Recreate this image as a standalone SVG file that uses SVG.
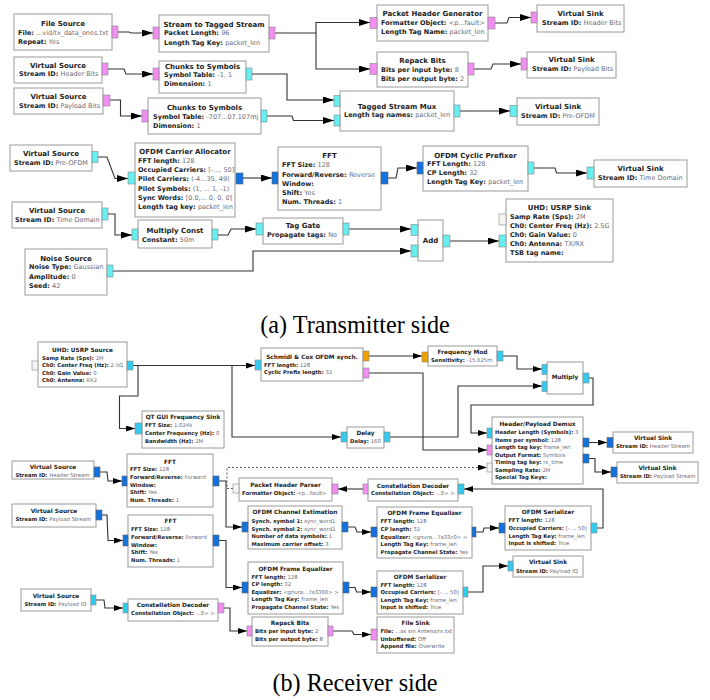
<svg xmlns="http://www.w3.org/2000/svg" width="710" height="700" viewBox="0 0 710 700">
<style>
.n{fill:#fff;stroke:#9a9a9a;stroke-width:1}
.pk{fill:#f28ef2;stroke:#888;stroke-width:.6}
.cy{fill:#66eef0;stroke:#888;stroke-width:.6}
.cb{fill:#33ccf0;stroke:#888;stroke-width:.6}
.bl{fill:#1272e0;stroke:#666;stroke-width:.6}
.or{fill:#f0a000;stroke:#888;stroke-width:.6}
.wh{fill:#f4f4f4;stroke:#888;stroke-width:.6}
text{font-family:"DejaVu Sans",sans-serif;fill:#222;font-weight:bold}
.t{text-anchor:middle}
.v{font-weight:normal;fill:#6b6b78}
.top .t{font-size:7px}
.top .p{font-size:6.5px}
.bot .t{font-size:5.8px}
.bot .p{font-size:5.3px}
.c{fill:none;stroke:#333;stroke-width:1.1}
.top .c{marker-end:url(#ah)}
.bot .c{marker-end:url(#as)}
.d{fill:none;stroke:#555;stroke-width:1;stroke-dasharray:2,2;marker-end:url(#as)}
.cap{font-family:"Liberation Serif",serif;font-weight:normal;font-size:24.2px;text-anchor:middle;fill:#000}
</style>
<defs>
<marker id="ah" markerUnits="userSpaceOnUse" markerWidth="11" markerHeight="7" refX="11" refY="3.5" orient="auto"><path d="M0,0 L11,3.5 L0,7 z" fill="#000"/></marker>
<marker id="as" markerUnits="userSpaceOnUse" markerWidth="9" markerHeight="6" refX="9" refY="3" orient="auto"><path d="M0,0 L9,3 L0,6 z" fill="#000"/></marker>
</defs>
<rect width="710" height="700" fill="#fff"/>

<g class="top">
<g id="connectors_tx">
<path class="c" d="M118,32 H129 L131,33 H153"/>
<path class="c" d="M275,33 H316 V22.5 H370"/>
<path class="c" d="M316,33 V69 H370"/>
<path class="c" d="M495,23 H507 L509,17.5 H531"/>
<path class="c" d="M474,69 H491 L493,64 H521"/>
<path class="c" d="M108,69 H124 L126,74 H153"/>
<path class="c" d="M252,74 H287 V100 H334"/>
<path class="c" d="M110,100 H120.5 V116 H142"/>
<path class="c" d="M267,116 H292 L293.5,120.5 H334"/>
<path class="c" d="M460,111 H510"/>
<path class="c" d="M98,157 H107 L115,178.5 H128"/>
<path class="c" d="M243,178 H272"/>
<path class="c" d="M388,178 H396 L398,168 H417"/>
<path class="c" d="M534,168 H555 L556.5,173 H587"/>
<path class="c" d="M108,214 H115 V235 H132"/>
<path class="c" d="M218,235 H228 L231,229 H256"/>
<path class="c" d="M349,229 H411"/>
<path class="c" d="M113,271 H253 V251 H411"/>
<path class="c" d="M450,241 H499"/>
</g>

<g id="file_source">
<rect class="n" x="14" y="14" width="98" height="36"/>
<text class="t" x="63" y="25.5">File Source</text>
<text class="p" x="18" y="35.3">File: <tspan class="v">...vid/tx_data_ones.txt</tspan></text>
<text class="p" x="18" y="44.3">Repeat: <tspan class="v">Yes</tspan></text>
<rect class="pk" x="112" y="26" width="6" height="12"/>
</g>
<g id="stream_to_tagged_stream">
<rect class="n" x="159" y="15" width="110" height="37"/>
<text class="t" x="214" y="26.5">Stream to Tagged Stream</text>
<text class="p" x="164" y="35.3">Packet Length: <tspan class="v">96</tspan></text>
<text class="p" x="164" y="45.3">Length Tag Key: <tspan class="v">packet_len</tspan></text>
<rect class="pk" x="153" y="27" width="6" height="12"/>
<rect class="pk" x="269" y="27" width="6" height="12"/>
</g>
<g id="packet_header_generator">
<rect class="n" x="377" y="5" width="111" height="36"/>
<text class="t" x="432.5" y="15.5">Packet Header Generator</text>
<text class="p" x="381" y="25.3">Formatter Object: <tspan class="v">&lt;p...fault&gt;</tspan></text>
<text class="p" x="381" y="34.3">Length Tag Name: <tspan class="v">packet_len</tspan></text>
<rect class="pk" x="370" y="17.5" width="7" height="11"/>
<rect class="pk" x="488" y="17" width="7" height="12"/>
</g>
<g id="virtual_sink_header_bits">
<rect class="n" x="537" y="5" width="87" height="27"/>
<text class="t" x="580.5" y="15.5">Virtual Sink</text>
<text class="p" x="542" y="25.3">Stream ID: <tspan class="v">Header Bits</tspan></text>
<rect class="pk" x="531" y="12" width="6" height="11"/>
</g>
<g id="repack_bits_tx">
<rect class="n" x="377" y="52" width="91" height="35"/>
<text class="t" x="422.5" y="62.5">Repack Bits</text>
<text class="p" x="381" y="72.3">Bits per input byte: <tspan class="v">8</tspan></text>
<text class="p" x="381" y="81.3">Bits per output byte: <tspan class="v">2</tspan></text>
<rect class="pk" x="370" y="63.5" width="7" height="11"/>
<rect class="pk" x="468" y="63" width="6" height="12"/>
</g>
<g id="virtual_sink_payload_bits">
<rect class="n" x="527" y="52" width="89" height="26"/>
<text class="t" x="571.5" y="62">Virtual Sink</text>
<text class="p" x="532" y="71.3">Stream ID: <tspan class="v">Payload Bits</tspan></text>
<rect class="pk" x="521" y="58" width="6" height="12"/>
</g>
<g id="virtual_source_header_bits">
<rect class="n" x="14" y="57" width="88" height="26"/>
<text class="t" x="58" y="67.5">Virtual Source</text>
<text class="p" x="19" y="76.3">Stream ID: <tspan class="v">Header Bits</tspan></text>
<rect class="pk" x="102" y="63" width="6" height="12"/>
</g>
<g id="chunks_to_symbols_1">
<rect class="n" x="159" y="61" width="87" height="32"/>
<text class="t" x="202.5" y="68.5">Chunks to Symbols</text>
<text class="p" x="164" y="77.3">Symbol Table: <tspan class="v">-1, 1</tspan></text>
<text class="p" x="164" y="86.3">Dimension: <tspan class="v">1</tspan></text>
<rect class="pk" x="153" y="68" width="6" height="12"/>
<rect class="cy" x="246" y="68" width="6" height="12"/>
</g>
<g id="virtual_source_payload_bits">
<rect class="n" x="14" y="88" width="89" height="26"/>
<text class="t" x="58.5" y="98.5">Virtual Source</text>
<text class="p" x="19" y="108.3">Stream ID: <tspan class="v">Payload Bits</tspan></text>
<rect class="pk" x="103" y="95" width="7" height="11"/>
</g>
<g id="chunks_to_symbols_2">
<rect class="n" x="148" y="98" width="113" height="36"/>
<text class="t" x="204.5" y="109.5">Chunks to Symbols</text>
<text class="p" x="153" y="119.3">Symbol Table: <tspan class="v">-707...07.107mj</tspan></text>
<text class="p" x="153" y="128.3">Dimension: <tspan class="v">1</tspan></text>
<rect class="pk" x="142" y="110" width="6" height="12"/>
<rect class="cy" x="261" y="110" width="6" height="12"/>
</g>
<g id="tagged_stream_mux">
<rect class="n" x="340" y="91" width="114" height="40"/>
<text class="t" x="397" y="108.5">Tagged Stream Mux</text>
<text class="p" x="344" y="117.3">Length tag names: <tspan class="v">packet_len</tspan></text>
<rect class="cy" x="334" y="95.5" width="6" height="11"/>
<rect class="cy" x="334" y="115" width="6" height="11"/>
<rect class="cy" x="454" y="105" width="6" height="12"/>
</g>
<g id="virtual_sink_pre_ofdm">
<rect class="n" x="517" y="98" width="82" height="27"/>
<text class="t" x="558" y="108.5">Virtual Sink</text>
<text class="p" x="521" y="118.3">Stream ID: <tspan class="v">Pre-OFDM</tspan></text>
<rect class="cy" x="510" y="105.5" width="7" height="11"/>
</g>
<g id="virtual_source_pre_ofdm">
<rect class="n" x="10" y="145" width="82" height="26"/>
<text class="t" x="51" y="155.8">Virtual Source</text>
<text class="p" x="14" y="165">Stream ID: <tspan class="v">Pre-OFDM</tspan></text>
<rect class="cy" x="92" y="151.5" width="6" height="11"/>
</g>
<g id="ofdm_carrier_allocator">
<rect class="n" x="135" y="143" width="100" height="74"/>
<text class="t" x="185" y="153.5">OFDM Carrier Allocator</text>
<text class="p" x="138" y="163">FFT length: <tspan class="v">128</tspan></text>
<text class="p" x="138" y="172.3">Occupied Carriers: <tspan class="v">[-..., 50]</tspan></text>
<text class="p" x="138" y="181.3">Pilot Carriers: <tspan class="v">(-4...35, 49)</tspan></text>
<text class="p" x="138" y="190.8">Pilot Symbols: <tspan class="v">(1, ... 1, -1)</tspan></text>
<text class="p" x="138" y="200">Sync Words: <tspan class="v">[0.0,... 0, 0, 0]</tspan></text>
<text class="p" x="138" y="209">Length tag key: <tspan class="v">packet_len</tspan></text>
<rect class="cy" x="128" y="172" width="7" height="12"/>
<rect class="bl" x="236" y="173" width="7" height="11"/>
</g>
<g id="fft_tx">
<rect class="n" x="278" y="147" width="103" height="63"/>
<text class="t" x="329.5" y="158.2">FFT</text>
<text class="p" x="282" y="167.3">FFT Size: <tspan class="v">128</tspan></text>
<text class="p" x="282" y="176.6">Forward/Reverse: <tspan class="v">Reverse</tspan></text>
<text class="p" x="282" y="185.6">Window:</text>
<text class="p" x="282" y="194.6">Shift: <tspan class="v">Yes</tspan></text>
<text class="p" x="282" y="204">Num. Threads: <tspan class="v">1</tspan></text>
<rect class="bl" x="272" y="172" width="6" height="12"/>
<rect class="bl" x="381" y="172" width="7" height="12"/>
</g>
<g id="ofdm_cyclic_prefixer">
<rect class="n" x="423" y="146" width="105" height="45"/>
<text class="t" x="475.5" y="158.2">OFDM Cyclic Prefixer</text>
<text class="p" x="427" y="166.3">FFT Length: <tspan class="v">128</tspan></text>
<text class="p" x="427" y="175.3">CP Length: <tspan class="v">32</tspan></text>
<text class="p" x="427" y="184.3">Length Tag Key: <tspan class="v">packet_len</tspan></text>
<rect class="bl" x="417" y="162" width="6" height="12"/>
<rect class="cy" x="528" y="162" width="6" height="12"/>
</g>
<g id="virtual_sink_time_domain">
<rect class="n" x="594" y="160" width="93" height="27"/>
<text class="t" x="640.5" y="170.5">Virtual Sink</text>
<text class="p" x="598" y="180.3">Stream ID: <tspan class="v">Time Domain</tspan></text>
<rect class="cy" x="587" y="167" width="7" height="12"/>
</g>
<g id="virtual_source_time_domain">
<rect class="n" x="12" y="202" width="90" height="26"/>
<text class="t" x="57" y="212.5">Virtual Source</text>
<text class="p" x="15" y="222.3">Stream ID: <tspan class="v">Time Domain</tspan></text>
<rect class="cy" x="102" y="208" width="6" height="12"/>
</g>
<g id="multiply_const">
<rect class="n" x="138" y="220" width="74" height="28"/>
<text class="t" x="175" y="233.2">Multiply Const</text>
<text class="p" x="142" y="242.3">Constant: <tspan class="v">50m</tspan></text>
<rect class="cy" x="132" y="229" width="6" height="11"/>
<rect class="cy" x="212" y="229" width="6" height="11"/>
</g>
<g id="tag_gate">
<rect class="n" x="263" y="218" width="80" height="26"/>
<text class="t" x="303" y="227.5">Tag Gate</text>
<text class="p" x="267" y="237.3">Propagate tags: <tspan class="v">No</tspan></text>
<rect class="cy" x="256" y="223" width="7" height="12"/>
<rect class="cy" x="343" y="223" width="6" height="12"/>
</g>
<g id="add">
<rect class="n" x="418" y="220" width="25" height="41"/>
<text class="t" x="430.5" y="242.5">Add</text>
<rect class="cy" x="411" y="224.5" width="7" height="11"/>
<rect class="cy" x="411" y="245" width="7" height="12"/>
<rect class="cy" x="443" y="235" width="7" height="12"/>
</g>
<g id="noise_source">
<rect class="n" x="25" y="249" width="82" height="46"/>
<text class="t" x="66" y="260.5">Noise Source</text>
<text class="p" x="29" y="269.3">Noise Type: <tspan class="v">Gaussian</tspan></text>
<text class="p" x="29" y="279">Amplitude: <tspan class="v">0</tspan></text>
<text class="p" x="29" y="288">Seed: <tspan class="v">42</tspan></text>
<rect class="cy" x="107" y="265" width="6" height="12"/>
</g>
<g id="uhd_usrp_sink">
<rect class="n" x="506" y="199" width="107" height="63"/>
<text class="t" x="559.5" y="209.5">UHD: USRP Sink</text>
<text class="p" x="510" y="219.3">Samp Rate (Sps): <tspan class="v">2M</tspan></text>
<text class="p" x="510" y="228.3">Ch0: Center Freq (Hz): <tspan class="v">2.5G</tspan></text>
<text class="p" x="510" y="237.3">Ch0: Gain Value: <tspan class="v">0</tspan></text>
<text class="p" x="510" y="246.3">Ch0: Antenna: <tspan class="v">TX/RX</tspan></text>
<text class="p" x="510" y="255.3">TSB tag name:</text>
<rect class="wh" x="499" y="214" width="7" height="11"/>
<rect class="cy" x="499" y="235" width="7" height="12"/>
</g>
</g>

<text class="cap" x="355" y="333">(a) Transmitter side</text>

<g class="bot">
<g id="connectors_rx">
<path class="c" d="M133,365.5 H255"/>
<path class="c" d="M138,365.5 V396 H119.5 V428.5 H135"/>
<path class="c" d="M232,365.5 V437 H341"/>
<path class="c" d="M369,356 H422"/>
<path class="c" d="M503,356 H517 V369 H542"/>
<path class="c" d="M390,437 H458 V386 H542"/>
<path class="c" d="M369,373 H423 V450 H487"/>
<path class="c" d="M589,378 H593 V405 H471 V433 H487"/>
<path class="c" d="M589,442.5 H607"/>
<path class="c" d="M589,458.5 H595 V472 H611"/>
<path class="d" d="M233,488.5 H227 V467.5 H487"/>
<path class="c" d="M363,489 H338"/>
<path class="c" d="M597,528 H603 V489 H464"/>
<path class="c" d="M100,472 H107 L108,481 H122"/>
<path class="c" d="M219,481 H226 V527 H242"/>
<path class="c" d="M102,515 H107 L108,540.5 H123"/>
<path class="c" d="M219,540.5 H226 V587.5 H242"/>
<path class="c" d="M348,527 H355 L357,532 H371"/>
<path class="c" d="M476,532 H483 L484,528 H499"/>
<path class="c" d="M349,587.5 H355 L356.5,592 H371"/>
<path class="c" d="M468,592 H483 V566 H508"/>
<path class="c" d="M96,600 H104 L105,608 H123"/>
<path class="c" d="M224,608 H230 V631 H247"/>
<path class="c" d="M333,631 H352 L354,634.5 H371"/>
</g>

<g id="uhd_usrp_source">
<rect class="n" x="38" y="342" width="89" height="45"/>
<text class="t" x="82.5" y="351.7">UHD: USRP Source</text>
<text class="p" x="42" y="359.6">Samp Rate (Sps): <tspan class="v">2M</tspan></text>
<text class="p" x="42" y="366.9">Ch0: Center Freq (Hz): <tspan class="v">2.5G</tspan></text>
<text class="p" x="42" y="374.6">Ch0: Gain Value: <tspan class="v">0</tspan></text>
<text class="p" x="42" y="381.9">Ch0: Antenna: <tspan class="v">RX2</tspan></text>
<rect class="wh" x="32" y="361" width="6" height="9"/>
<rect class="cb" x="127" y="361" width="6" height="9"/>
</g>
<g id="qt_gui_frequency_sink">
<rect class="n" x="142" y="411" width="82" height="37"/>
<text class="t" x="183" y="419.3">QT GUI Frequency Sink</text>
<text class="p" x="145" y="427">FFT Size: <tspan class="v">1.024k</tspan></text>
<text class="p" x="145" y="435">Center Frequency (Hz): <tspan class="v">0</tspan></text>
<text class="p" x="145" y="443">Bandwidth (Hz): <tspan class="v">2M</tspan></text>
<rect class="cb" x="135" y="423" width="7" height="11"/>
</g>
<g id="schmidl_cox">
<rect class="n" x="261" y="348" width="102" height="33"/>
<text class="t" x="312" y="358.7">Schmidl &amp; Cox OFDM synch.</text>
<text class="p" x="264" y="366.6">FFT length: <tspan class="v">128</tspan></text>
<text class="p" x="264" y="374.2">Cyclic Prefix length: <tspan class="v">32</tspan></text>
<rect class="cb" x="255" y="360" width="6" height="10"/>
<rect class="or" x="363" y="351" width="6" height="10"/>
<rect class="pk" x="363" y="368" width="6" height="10"/>
</g>
<g id="frequency_mod">
<rect class="n" x="428" y="346" width="69" height="20"/>
<text class="t" x="462.5" y="354.3">Frequency Mod</text>
<text class="p" x="431" y="362">Sensitivity: <tspan class="v">-15.625m</tspan></text>
<rect class="or" x="422" y="352" width="6" height="10"/>
<rect class="cb" x="497" y="351" width="6" height="10"/>
</g>
<g id="multiply">
<rect class="n" x="547" y="362" width="36" height="32"/>
<text class="t" x="565" y="379">Multiply</text>
<rect class="cb" x="542" y="364.5" width="5" height="10"/>
<rect class="cb" x="542" y="381.5" width="5" height="10"/>
<rect class="cb" x="583" y="373" width="6" height="10"/>
</g>
<g id="delay">
<rect class="n" x="347" y="427" width="37" height="21"/>
<text class="t" x="365.5" y="435">Delay</text>
<text class="p" x="350" y="443">Delay: <tspan class="v">160</tspan></text>
<rect class="cb" x="341" y="432" width="6" height="10"/>
<rect class="cb" x="384" y="432" width="6" height="10"/>
</g>
<g id="header_payload_demux">
<rect class="n" x="492" y="417" width="91" height="67"/>
<text class="t" x="537.5" y="426">Header/Payload Demux</text>
<text class="p" x="495" y="434">Header Length (Symbols): <tspan class="v">3</tspan></text>
<text class="p" x="495" y="441.5">Items per symbol: <tspan class="v">128</tspan></text>
<text class="p" x="495" y="449">Length tag key: <tspan class="v">frame_len</tspan></text>
<text class="p" x="495" y="456.6">Output Format: <tspan class="v">Symbols</tspan></text>
<text class="p" x="495" y="464.2">Timing tag key: <tspan class="v">rx_time</tspan></text>
<text class="p" x="495" y="471.8">Sampling Rate: <tspan class="v">2M</tspan></text>
<text class="p" x="495" y="479.4">Special Tag Keys:</text>
<rect class="cb" x="487" y="428" width="5" height="10"/>
<rect class="pk" x="487" y="445" width="5" height="10"/>
<rect class="wh" x="487" y="463" width="5" height="9"/>
<rect class="bl" x="583" y="438" width="6" height="9"/>
<rect class="bl" x="583" y="454" width="6" height="9"/>
</g>
<g id="virtual_sink_header_stream">
<rect class="n" x="613" y="432" width="80" height="21"/>
<text class="t" x="653" y="440.3">Virtual Sink</text>
<text class="p" x="616" y="448">Stream ID: <tspan class="v">Header Stream</tspan></text>
<rect class="bl" x="607" y="437.5" width="6" height="10"/>
</g>
<g id="virtual_sink_payload_stream">
<rect class="n" x="617" y="462" width="81" height="21"/>
<text class="t" x="657.5" y="470.3">Virtual Sink</text>
<text class="p" x="620" y="478">Stream ID: <tspan class="v">Payload Stream</tspan></text>
<rect class="bl" x="611" y="467" width="6" height="10"/>
</g>
<g id="virtual_source_header_stream">
<rect class="n" x="12" y="461" width="82" height="18"/>
<text class="t" x="53" y="469.2">Virtual Source</text>
<text class="p" x="15.5" y="476.8">Stream ID: <tspan class="v">Header Stream</tspan></text>
<rect class="bl" x="94" y="467" width="6" height="10"/>
</g>
<g id="fft_header">
<rect class="n" x="127" y="454" width="86" height="53"/>
<text class="t" x="170" y="463.7">FFT</text>
<text class="p" x="130" y="471.2">FFT Size: <tspan class="v">128</tspan></text>
<text class="p" x="130" y="479.2">Forward/Reverse: <tspan class="v">Forward</tspan></text>
<text class="p" x="130" y="486.6">Window:</text>
<text class="p" x="130" y="494.2">Shift: <tspan class="v">Yes</tspan></text>
<text class="p" x="130" y="501.9">Num. Threads: <tspan class="v">1</tspan></text>
<rect class="bl" x="122" y="476" width="5" height="10"/>
<rect class="bl" x="213" y="476" width="6" height="10"/>
</g>
<g id="packet_header_parser">
<rect class="n" x="239" y="478" width="93" height="23"/>
<text class="t" x="285.5" y="487">Packet Header Parser</text>
<text class="p" x="242" y="494.6">Formatter Object: <tspan class="v">&lt;p...fault&gt;</tspan></text>
<rect class="wh" x="233" y="484" width="6" height="9"/>
<rect class="pk" x="332" y="484" width="6" height="10"/>
</g>
<g id="constellation_decoder_header">
<rect class="n" x="368" y="479" width="90" height="22"/>
<text class="t" x="413" y="487.7">Constellation Decoder</text>
<text class="p" x="371" y="495.2">Constellation Object: <tspan class="v">...0&gt; &gt;</tspan></text>
<rect class="pk" x="363" y="484" width="5" height="10"/>
<rect class="cb" x="458" y="484" width="6" height="10"/>
</g>
<g id="virtual_source_payload_stream">
<rect class="n" x="12" y="504" width="84" height="23"/>
<text class="t" x="54" y="512.7">Virtual Source</text>
<text class="p" x="15.5" y="520.9">Stream ID: <tspan class="v">Payload Stream</tspan></text>
<rect class="bl" x="96" y="510" width="6" height="10"/>
</g>
<g id="fft_payload">
<rect class="n" x="128" y="515" width="85" height="52"/>
<text class="t" x="170.5" y="523">FFT</text>
<text class="p" x="131" y="531">FFT Size: <tspan class="v">128</tspan></text>
<text class="p" x="131" y="539.2">Forward/Reverse: <tspan class="v">Forward</tspan></text>
<text class="p" x="131" y="546.6">Window:</text>
<text class="p" x="131" y="554">Shift: <tspan class="v">Yes</tspan></text>
<text class="p" x="131" y="561.6">Num. Threads: <tspan class="v">1</tspan></text>
<rect class="bl" x="123" y="535" width="5" height="11"/>
<rect class="bl" x="213" y="535" width="6" height="11"/>
</g>
<g id="ofdm_channel_estimation">
<rect class="n" x="248" y="506" width="94" height="43"/>
<text class="t" x="295" y="514.3">OFDM Channel Estimation</text>
<text class="p" x="251.5" y="522.9">Synch. symbol 1: <tspan class="v">sync_word1</tspan></text>
<text class="p" x="251.5" y="530.6">Synch. symbol 2: <tspan class="v">sync_word2</tspan></text>
<text class="p" x="251.5" y="537.9">Number of data symbols: <tspan class="v">1</tspan></text>
<text class="p" x="251.5" y="545.6">Maximum carrier offset: <tspan class="v">3</tspan></text>
<rect class="bl" x="242" y="522" width="6" height="10"/>
<rect class="bl" x="342" y="522" width="6" height="10"/>
</g>
<g id="ofdm_frame_equalizer_1">
<rect class="n" x="377" y="507" width="95" height="51"/>
<text class="t" x="424.5" y="515">OFDM Frame Equalizer</text>
<text class="p" x="380.5" y="522.9">FFT length: <tspan class="v">128</tspan></text>
<text class="p" x="380.5" y="530.9">CP length: <tspan class="v">32</tspan></text>
<text class="p" x="380.5" y="538.6">Equalizer: <tspan class="v">&lt;gnura...7a33c0&gt; &gt;</tspan></text>
<text class="p" x="380.5" y="545.6">Length Tag Key: <tspan class="v">frame_len</tspan></text>
<text class="p" x="380.5" y="553.6">Propagate Channel State: <tspan class="v">Yes</tspan></text>
<rect class="bl" x="371" y="527" width="6" height="10"/>
<rect class="bl" x="472" y="527" width="4" height="10"/>
</g>
<g id="ofdm_serializer_1">
<rect class="n" x="505" y="506" width="86" height="44"/>
<text class="t" x="548" y="514.3">OFDM Serializer</text>
<text class="p" x="508.5" y="522.2">FFT length: <tspan class="v">128</tspan></text>
<text class="p" x="508.5" y="529.9">Occupied Carriers: <tspan class="v">[-..., 50]</tspan></text>
<text class="p" x="508.5" y="537.6">Length Tag Key: <tspan class="v">frame_len</tspan></text>
<text class="p" x="508.5" y="544.9">Input is shifted: <tspan class="v">True</tspan></text>
<rect class="bl" x="499" y="523" width="6" height="10"/>
<rect class="cb" x="591" y="523" width="6" height="10"/>
</g>
<g id="ofdm_frame_equalizer_2">
<rect class="n" x="248" y="562" width="95" height="52"/>
<text class="t" x="295.5" y="571">OFDM Frame Equalizer</text>
<text class="p" x="251.5" y="578.6">FFT length: <tspan class="v">128</tspan></text>
<text class="p" x="251.5" y="585.9">CP length: <tspan class="v">32</tspan></text>
<text class="p" x="251.5" y="593.9">Equalizer: <tspan class="v">&lt;gnura...7a3360&gt; &gt;</tspan></text>
<text class="p" x="251.5" y="601.2">Length Tag Key: <tspan class="v">frame_len</tspan></text>
<text class="p" x="251.5" y="608.9">Propagate Channel State: <tspan class="v">Yes</tspan></text>
<rect class="bl" x="242" y="582" width="6" height="11"/>
<rect class="bl" x="343" y="582" width="6" height="11"/>
</g>
<g id="ofdm_serializer_2">
<rect class="n" x="377" y="571" width="86" height="43"/>
<text class="t" x="420" y="578.7">OFDM Serializer</text>
<text class="p" x="380.5" y="586.6">FFT length: <tspan class="v">128</tspan></text>
<text class="p" x="380.5" y="593.9">Occupied Carriers: <tspan class="v">[-..., 50]</tspan></text>
<text class="p" x="380.5" y="601.6">Length Tag Key: <tspan class="v">frame_len</tspan></text>
<text class="p" x="380.5" y="608.9">Input is shifted: <tspan class="v">True</tspan></text>
<rect class="bl" x="371" y="587" width="6" height="10"/>
<rect class="cb" x="463" y="587" width="5" height="10"/>
</g>
<g id="virtual_sink_payload_iq">
<rect class="n" x="513" y="556" width="70" height="21"/>
<text class="t" x="548" y="564.3">Virtual Sink</text>
<text class="p" x="516" y="572.6">Stream ID: <tspan class="v">Payload IQ</tspan></text>
<rect class="cb" x="508" y="561" width="5" height="10"/>
</g>
<g id="virtual_source_payload_iq">
<rect class="n" x="21" y="589" width="70" height="22"/>
<text class="t" x="56" y="598">Virtual Source</text>
<text class="p" x="24.5" y="606.2">Stream ID: <tspan class="v">Payload IQ</tspan></text>
<rect class="cb" x="91" y="595" width="5" height="10"/>
</g>
<g id="constellation_decoder_payload">
<rect class="n" x="128" y="599" width="90" height="22"/>
<text class="t" x="173" y="607">Constellation Decoder</text>
<text class="p" x="131" y="614.9">Constellation Object: <tspan class="v">...0&gt; &gt;</tspan></text>
<rect class="cb" x="123" y="603" width="5" height="10"/>
<rect class="pk" x="218" y="603" width="6" height="10"/>
</g>
<g id="repack_bits_rx">
<rect class="n" x="252" y="617" width="76" height="29"/>
<text class="t" x="290" y="624.7">Repack Bits</text>
<text class="p" x="255" y="632.6">Bits per input byte: <tspan class="v">2</tspan></text>
<text class="p" x="255" y="640.6">Bits per output byte: <tspan class="v">8</tspan></text>
<rect class="pk" x="247" y="626" width="5" height="10"/>
<rect class="pk" x="328" y="626" width="5" height="10"/>
</g>
<g id="file_sink">
<rect class="n" x="377" y="617" width="77" height="36"/>
<text class="t" x="415.5" y="625.3">File Sink</text>
<text class="p" x="380.5" y="633">File: <tspan class="v">...as sin Antena/rx.txt</tspan></text>
<text class="p" x="380.5" y="640.6">Unbuffered: <tspan class="v">Off</tspan></text>
<text class="p" x="380.5" y="648">Append file: <tspan class="v">Overwrite</tspan></text>
<rect class="pk" x="371" y="629" width="6" height="11"/>
</g>
</g>

<text class="cap" x="355" y="691">(b) Receiver side</text>
</svg>
